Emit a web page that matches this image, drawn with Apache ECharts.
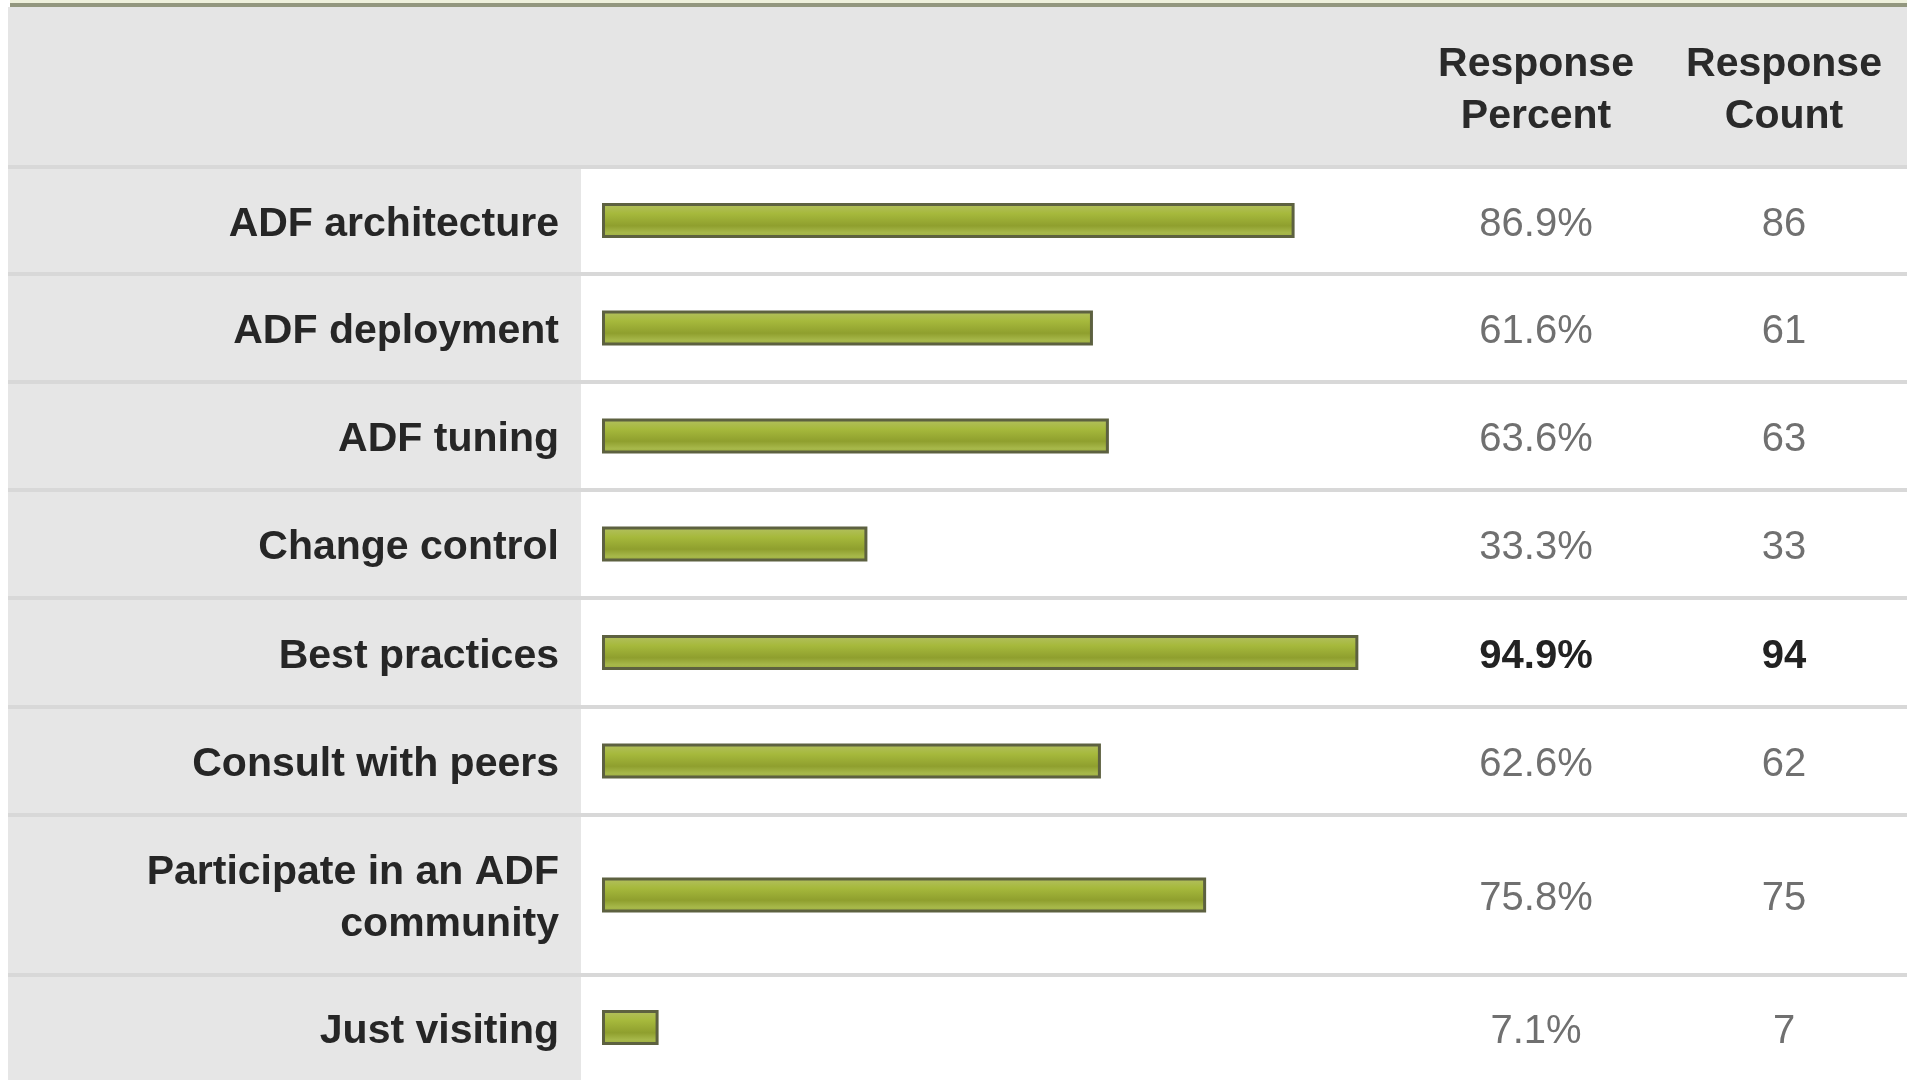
<!DOCTYPE html>
<html>
<head>
<meta charset="utf-8">
<script src="https://cdn.jsdelivr.net/npm/echarts@6/dist/echarts.min.js"></script>
<style>
html, body { margin: 0; padding: 0; background: #fff; }
#chart { width: 1907px; height: 1080px; }
</style>
</head>
<body>
<div id="chart"></div>
<script>
var categories = ["ADF architecture", "ADF deployment", "ADF tuning", "Change control",
  "Best practices", "Consult with peers", "Participate in an ADF\ncommunity", "Just visiting"];
var percents = [86.9, 61.6, 63.6, 33.3, 94.9, 62.6, 75.8, 7.1];
var counts = [86, 61, 63, 33, 94, 62, 75, 7];
var headers = ["Response\nPercent", "Response\nCount"];

// layout (px)
var rowLines = [167, 274, 382, 490, 598, 707, 815, 975, 1085];
var barLeft = 602, barSpan = 797, labelRight = 581;
var pctX = 1536, cntX = 1784;
var font = "Arial, 'Liberation Sans', sans-serif";
var best = percents.indexOf(Math.max.apply(null, percents));

var chart = echarts.init(document.getElementById("chart"));

var barFill = {
  type: "linear", x: 0, y: 0, x2: 0, y2: 1,
  colorStops: [
    { offset: 0, color: "#b4c063" },
    { offset: 0.3, color: "#a6b93c" },
    { offset: 0.65, color: "#8f9f2e" },
    { offset: 0.85, color: "#a7b84a" },
    { offset: 1, color: "#9cad3e" }
  ]
};

// wrap every line in a rich span so it can be nudged down a little
function nudge(text) {
  return text.split("\n").map(function (s) { return "{t|" + s + "}"; }).join("\n");
}

var grids = [], xAxes = [], yAxes = [], series = [];
categories.forEach(function (name, i) {
  var top = rowLines[i], h = rowLines[i + 1] - top, strong = i === best;
  var valLabel = function (text) {
    return {
      margin: 0, align: "center",
      formatter: function () { return nudge(text); },
      rich: {
        t: {
          fontFamily: font, fontSize: 40, padding: [8, 0, 0, 0],
          color: strong ? "#222" : "#707070", fontWeight: strong ? "bold" : "normal"
        }
      }
    };
  };
  grids.push({ left: barLeft, width: barSpan, top: top, height: h });
  xAxes.push({ type: "value", gridIndex: i, min: 0, max: 100, show: false });
  yAxes.push({
    type: "category", gridIndex: i, data: [name],
    axisLine: { show: false }, axisTick: { show: false },
    axisLabel: {
      margin: barLeft - labelRight + 22, align: "right",
      formatter: function (v) { return nudge(v); },
      rich: {
        t: {
          fontFamily: font, fontSize: 41, fontWeight: "bold", color: "#262626",
          lineHeight: 52, padding: [8, 0, 0, 0], align: "right"
        }
      }
    }
  });
  yAxes.push({
    type: "category", gridIndex: i, data: [name], position: "right",
    offset: pctX - barLeft - barSpan,
    axisLine: { show: false }, axisTick: { show: false },
    axisLabel: valLabel(percents[i].toFixed(1) + "%")
  });
  yAxes.push({
    type: "category", gridIndex: i, data: [name], position: "right",
    offset: cntX - barLeft - barSpan,
    axisLine: { show: false }, axisTick: { show: false },
    axisLabel: valLabel(String(counts[i]))
  });
  series.push({
    type: "bar", xAxisIndex: i, yAxisIndex: i * 3,
    data: [percents[i]], barWidth: 35,
    itemStyle: { color: barFill, borderColor: "#5d6140", borderWidth: 3 }
  });
});

var graphics = [
  { type: "rect", z: -10, shape: { x: 10, y: 0, width: 1897, height: 3 }, style: { fill: "#eef0dc" } },
  { type: "rect", z: -10, shape: { x: 10, y: 3, width: 1897, height: 4 }, style: { fill: "#93977f" } },
  { type: "rect", z: -10, shape: { x: 8, y: 7, width: 1899, height: 160 }, style: { fill: "#e5e5e5" } },
  { type: "rect", z: -10, shape: { x: 8, y: 167, width: labelRight - 8, height: 913 }, style: { fill: "#e6e6e6" } }
];
rowLines.slice(0, 8).forEach(function (y) {
  graphics.push({ type: "rect", z: -5, shape: { x: 8, y: y - 2, width: 1899, height: 4 }, style: { fill: "#d8d8d8" } });
});
headers.forEach(function (t, k) {
  graphics.push({
    type: "text", z: 5, x: k ? cntX : pctX, y: 91,
    style: {
      text: t, fill: "#2a2a2a", font: "bold 41px " + font,
      align: "center", verticalAlign: "middle", lineHeight: 52
    }
  });
});

chart.setOption({
  animation: false,
  backgroundColor: "#fff",
  graphic: graphics,
  grid: grids,
  xAxis: xAxes,
  yAxis: yAxes,
  series: series
});
</script>
</body>
</html>
